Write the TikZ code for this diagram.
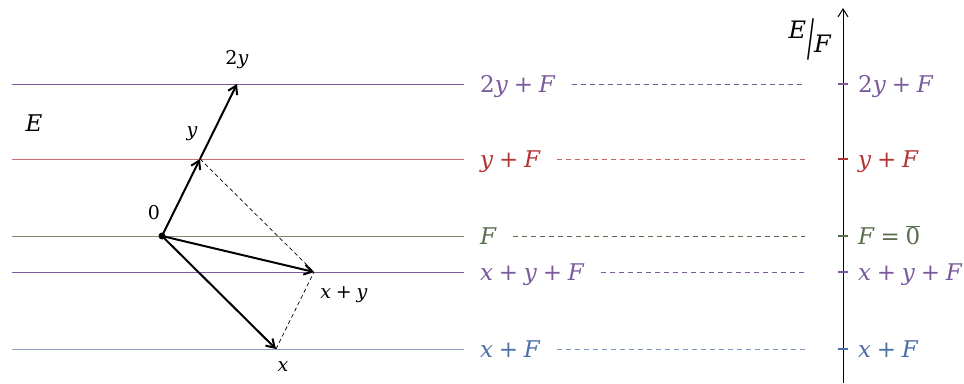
\documentclass[tikz,border=0pt]{standalone}
\usepackage{fontspec}
\setmainfont{DejaVu Serif}
\usetikzlibrary{arrows.meta, positioning}
\definecolor{cosetpurple}{HTML}{7A5A9C}
\definecolor{cosetred}{HTML}{B23434}
\definecolor{cosetgreen}{HTML}{586E4C}
\definecolor{cosetblue}{HTML}{4B6FA6}
\newcommand{\iv}[1]{\textit{#1}}
\newcommand{\pl}{\kern0.25em+\kern0.25em}

\begin{document}
\begin{tikzpicture}[x=1pt, y=-1pt,
  levelline/.style={line width=1pt, #1},
  leveldash/.style={line width=0.9pt, dash pattern=on 5pt off 4pt, #1},
  levellabel/.style={anchor=west, inner ysep=0pt, inner xsep=16pt,
                     text height=20pt, text depth=3pt,
                     font=\fontsize{23}{26}\selectfont, text=#1},
  axislabel/.style={levellabel=#1, inner xsep=0pt},
  axistick/.style={line width=2pt, #1},
  vecarrow/.style={-{Straight Barb[length=8pt, width=10pt]}, line width=2pt},
  vecdash/.style={line width=0.7pt, dash pattern=on 4pt off 3pt},
  veclabel/.style={font=\fontsize{19}{22}\selectfont, inner sep=0pt}
]
\useasboundingbox (0,0) rectangle (964,383);

% === Coset lines in E ===
\coordinate (e2y) at (12,84);
\coordinate (ey)  at (12,159);
\coordinate (e0)  at (12,236);
\coordinate (exy) at (12,272);
\coordinate (ex)  at (12,349);

\node[levellabel=cosetpurple] (l2y) at (464,84)  {2\iv{y}\pl\iv{F}};
\node[levellabel=cosetred]    (ly)  at (464,159) {\iv{y}\pl\iv{F}};
\node[levellabel=cosetgreen]  (l0)  at (464,236) {\iv{F}};
\node[levellabel=cosetpurple] (lxy) at (464,272) {\iv{x}\pl\iv{y}\pl\iv{F}};
\node[levellabel=cosetblue]   (lx)  at (464,349) {\iv{x}\pl\iv{F}};

\draw[levelline=cosetpurple]      (e2y) -- (l2y.west);
\draw[levelline=cosetred!70]      (ey)  -- (ly.west);
\draw[levelline=cosetgreen!80]    (e0)  -- (l0.west);
\draw[levelline=cosetpurple]      (exy) -- (lxy.west);
\draw[levelline=cosetblue!65]     (ex)  -- (lx.west);

\node[font=\fontsize{23}{26}\selectfont, inner sep=0pt] (E) at (34,123) {\iv{E}};

% === Vectors ===
\coordinate (o)   at (162,236);
\coordinate (vy)  at (200,159);
\coordinate (v2y) at (237,84);
\coordinate (vx)  at (276,349);
\coordinate (vxy) at (314,272);

\draw[vecdash] (vy) -- (vxy);
\draw[vecdash] (vx) -- (vxy);
\draw[vecarrow] (o) -- (vy);
\draw[vecarrow] (vy) -- (v2y);
\draw[vecarrow] (o) -- (vxy);
\draw[vecarrow] (o) -- (vx);
\fill (o) circle (3.5pt);

\node[veclabel] (n0)   at (154,213) {0};
\node[veclabel] (ny)   at (192,134) {\iv{y}};
\node[veclabel] (n2y)  at (237,60)  {2\iv{y}};
\node[veclabel] (nxy)  at (344,295) {\iv{x}\pl\iv{y}};
\node[veclabel] (nx)   at (283,367) {\iv{x}};

% === Quotient axis E/F ===
\coordinate (abot) at (843,383);
\coordinate (atop) at (843,8);
\draw[-{Straight Barb[length=8pt, width=10pt]}, line width=1pt] (abot) -- (atop);
\node[font=\fontsize{24}{28}\selectfont, inner sep=0pt] (quot) at (810,39)
  {\raisebox{8pt}{\iv{E}}\kern1pt\raisebox{-9pt}{\scalebox{0.85}[2.1]{/}}\kern0pt\raisebox{-6pt}{\iv{F}}};

\coordinate (t2y) at (843,84);
\coordinate (ty)  at (843,159);
\coordinate (t0)  at (843,236);
\coordinate (txy) at (843,272);
\coordinate (tx)  at (843,349);

\draw[leveldash=cosetpurple]  (l2y.east) -- ([xshift=-38pt]t2y);
\draw[leveldash=cosetred!75]  (ly.east)  -- ([xshift=-38pt]ty);
\draw[leveldash=cosetgreen]   (l0.east)  -- ([xshift=-38pt]t0);
\draw[leveldash=cosetpurple]  (lxy.east) -- ([xshift=-38pt]txy);
\draw[leveldash=cosetblue!75] (lx.east)  -- ([xshift=-38pt]tx);

\draw[axistick=cosetpurple] ([xshift=-5pt]t2y) -- ([xshift=5pt]t2y);
\draw[axistick=cosetred]    ([xshift=-5pt]ty)  -- ([xshift=5pt]ty);
\draw[axistick=cosetgreen]  ([xshift=-5pt]t0)  -- ([xshift=5pt]t0);
\draw[axistick=cosetpurple] ([xshift=-5pt]txy) -- ([xshift=5pt]txy);
\draw[axistick=cosetblue]   ([xshift=-5pt]tx)  -- ([xshift=5pt]tx);

\node[axislabel=cosetpurple, right=15pt of t2y] (r2y) {2\iv{y}\pl\iv{F}};
\node[axislabel=cosetred,    right=15pt of ty]  (ry)  {\iv{y}\pl\iv{F}};
\node[axislabel=cosetgreen,  right=15pt of t0]  (r0)
  {\iv{F}\kern0.25em=\kern0.25em$\overline{\hbox{0}}$};
\node[axislabel=cosetpurple, right=15pt of txy] (rxy) {\iv{x}\pl\iv{y}\pl\iv{F}};
\node[axislabel=cosetblue,   right=15pt of tx]  (rx)  {\iv{x}\pl\iv{F}};

\end{tikzpicture}
\end{document}
